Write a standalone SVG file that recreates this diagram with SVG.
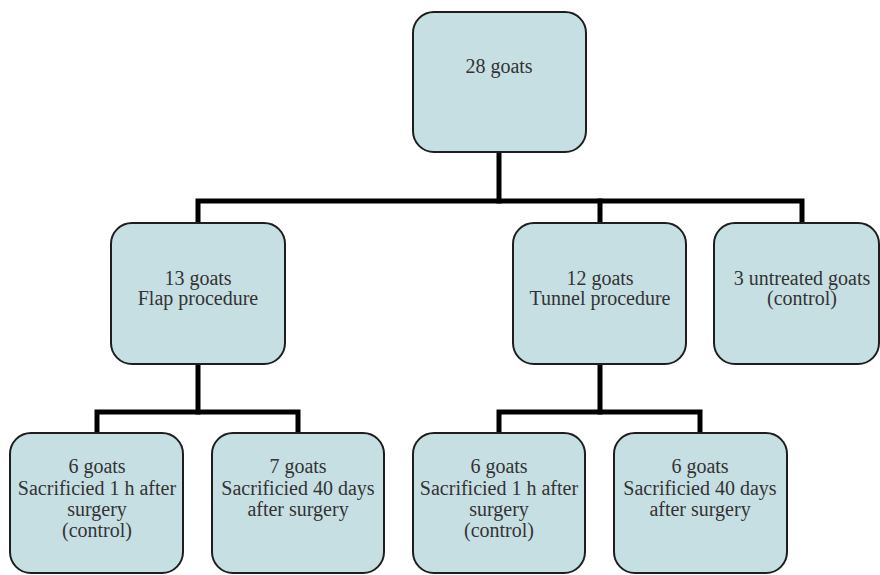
<svg xmlns="http://www.w3.org/2000/svg" width="880" height="575" viewBox="0 0 880 575">
<style>
.box{fill:#c6dfe3;stroke:#1e1e1e;stroke-width:2}
.lbl{font-family:'Liberation Serif','Times New Roman',Tinos,'DejaVu Serif',serif;font-size:20px;fill:#333;text-anchor:middle}
.conn{fill:none;stroke:#000;stroke-width:5;stroke-linejoin:miter;stroke-linecap:square}
</style>
<rect width="880" height="575" fill="#fff"/>
<g id="connectors">
<path class="conn" d="M499 153 V201"/>
<path class="conn" d="M198 222 V201 H802 V222"/>
<path class="conn" d="M600 201 V222"/>
<path class="conn" d="M198 365 V412"/>
<path class="conn" d="M97 432 V412 H298 V432"/>
<path class="conn" d="M600 365 V412"/>
<path class="conn" d="M499 432 V412 H700 V432"/>
</g>
<g id="n-root">
<rect class="box" x="413" y="12" width="173" height="140" rx="21"/>
<text class="lbl" x="499" y="73">28 goats</text>
</g>
<g id="n-flap">
<rect class="box" x="111" y="223" width="174" height="141" rx="21"/>
<text class="lbl" x="198" y="285">13 goats</text>
<text class="lbl" x="198" y="305">Flap procedure</text>
</g>
<g id="n-tunnel">
<rect class="box" x="513" y="223" width="173" height="141" rx="21"/>
<text class="lbl" x="600" y="285">12 goats</text>
<text class="lbl" x="600" y="305">Tunnel procedure</text>
</g>
<g id="n-untreated">
<rect class="box" x="714" y="223" width="165" height="141" rx="21"/>
<text class="lbl" x="802" y="285">3 untreated goats</text>
<text class="lbl" x="802" y="305">(control)</text>
</g>
<g id="n-flap-1h">
<rect class="box" x="10" y="433" width="173" height="140" rx="21"/>
<text class="lbl" x="97" y="473">6 goats</text>
<text class="lbl" x="97" y="495">Sacrificied 1 h after</text>
<text class="lbl" x="97" y="516">surgery</text>
<text class="lbl" x="97" y="537">(control)</text>
</g>
<g id="n-flap-40d">
<rect class="box" x="212" y="433" width="172" height="140" rx="21"/>
<text class="lbl" x="298" y="473">7 goats</text>
<text class="lbl" x="298" y="495">Sacrificied 40 days</text>
<text class="lbl" x="298" y="516">after surgery</text>
</g>
<g id="n-tunnel-1h">
<rect class="box" x="413" y="433" width="172" height="140" rx="21"/>
<text class="lbl" x="499" y="473">6 goats</text>
<text class="lbl" x="499" y="495">Sacrificied 1 h after</text>
<text class="lbl" x="499" y="516">surgery</text>
<text class="lbl" x="499" y="537">(control)</text>
</g>
<g id="n-tunnel-40d">
<rect class="box" x="614" y="433" width="173" height="140" rx="21"/>
<text class="lbl" x="700" y="473">6 goats</text>
<text class="lbl" x="700" y="495">Sacrificied 40 days</text>
<text class="lbl" x="700" y="516">after surgery</text>
</g>
</svg>
